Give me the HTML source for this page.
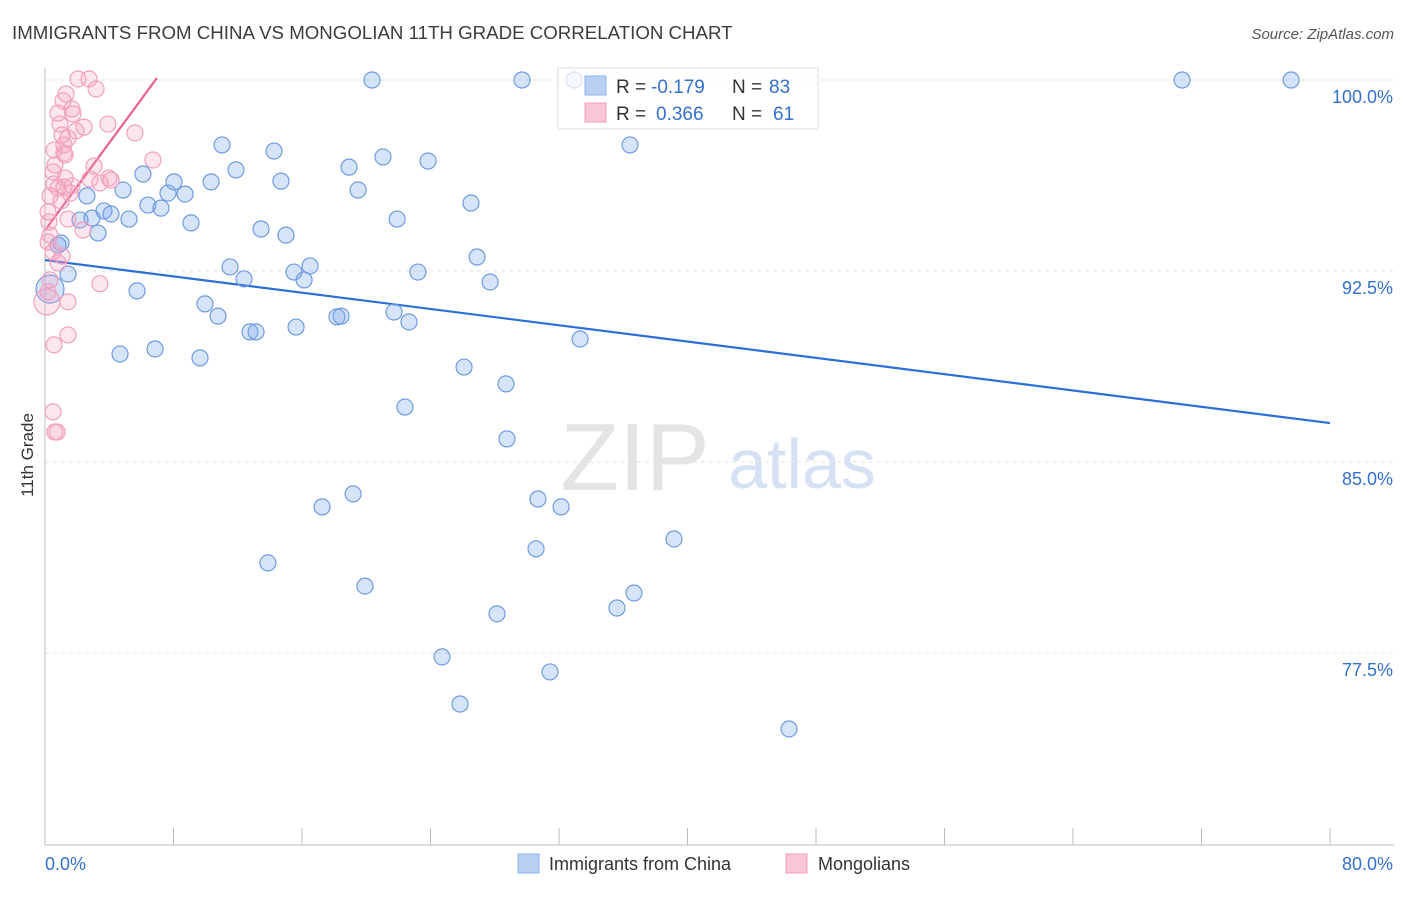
<!DOCTYPE html>
<html><head><meta charset="utf-8">
<style>
body{margin:0;background:#fff;font-family:"Liberation Sans",sans-serif;}
svg text{font-family:"Liberation Sans",sans-serif;}
</style></head>
<body>
<svg id="chart" width="1406" height="892" viewBox="0 0 1406 892" xmlns="http://www.w3.org/2000/svg">
<text x="12" y="39" font-size="18.7" fill="#3c3c3c">IMMIGRANTS FROM CHINA VS MONGOLIAN 11TH GRADE CORRELATION CHART</text>
<text x="1394" y="39" font-size="15" fill="#555" text-anchor="end" font-style="italic">Source: ZipAtlas.com</text>
<g>
<text x="635" y="490" font-size="96" fill="#e4e4e4" font-family="Liberation Serif" text-anchor="middle">ZIP</text>
<text x="802" y="488" font-size="70" fill="#d6e2f4" text-anchor="middle">atlas</text>
</g>
<g id="grid"></g>
<g id="axes"></g>
<g id="lines"></g>
<g id="points"></g>
<text transform="translate(33,455) rotate(-90)" font-size="17" fill="#333" text-anchor="middle">11th Grade</text>
<g>
<rect x="558" y="68" width="260" height="61" fill="rgba(255,255,255,0.75)" stroke="#ddd"/>
<rect x="585" y="76" width="21" height="19" fill="#b7d0f3" stroke="#8fb3e8"/>
<rect x="585" y="103" width="21" height="19" fill="#f9c6d6" stroke="#f0a0bb"/>
<text x="616" y="93" font-size="19" fill="#333">R =</text>
<text x="651" y="93" font-size="19" fill="#3370d0">-0.179</text>
<text x="732" y="93" font-size="19" fill="#333">N =</text>
<text x="769" y="93" font-size="19" fill="#3370d0">83</text>
<text x="616" y="120" font-size="19" fill="#333">R =</text>
<text x="656" y="120" font-size="19" fill="#3370d0">0.366</text>
<text x="732" y="120" font-size="19" fill="#333">N =</text>
<text x="773" y="120" font-size="19" fill="#3370d0">61</text>
</g>
<g>
<rect x="518" y="854" width="21" height="19" fill="#b7d0f3" stroke="#8fb3e8"/>
<text x="549" y="870" font-size="18" fill="#333">Immigrants from China</text>
<rect x="786" y="854" width="21" height="19" fill="#f9c6d6" stroke="#f0a0bb"/>
<text x="818" y="870" font-size="18" fill="#333">Mongolians</text>
</g>
</svg>
<script>
const yTicks=[100,92.5,85,77.5];
const yTickLabels=["100.0%","92.5%","85.0%","77.5%"];
const xTickCount=10;
const xTickLabels=["0.0%","80.0%"];
const blueX=[20.36,29.70,70.79,77.58,32.94,11.02,36.42,14.26,21.04,23.85,18.93,11.89,6.10,10.34,14.69,8.03,4.86,19.49,7.66,8.72,2.61,26.52,6.41,7.22,3.67,4.11,21.92,2.93,2.18,5.23,9.09,13.45,3.30,15.00,1.00,26.90,11.52,16.50,15.50,23.22,1.43,16.13,12.39,27.71,5.73,9.96,10.77,21.73,18.18,18.43,22.66,15.63,12.76,13.14,33.31,4.67,6.85,9.65,26.09,28.70,22.41,28.76,19.18,17.25,30.69,32.13,30.57,39.16,13.88,19.92,36.67,35.61,28.14,24.72,31.44,25.84,46.32,0.31,0.81];
const blueY=[100,100,100,100,100,97.45,97.45,97.21,96.98,96.82,96.58,96.47,96.31,96.00,96.03,96.00,95.68,95.68,95.56,95.52,95.45,95.17,95.09,94.97,94.86,94.74,94.54,94.58,94.50,94.54,94.39,94.15,93.99,93.91,93.60,93.05,92.66,92.70,92.46,92.46,92.38,92.15,92.19,92.07,91.72,91.21,90.73,90.89,90.70,90.73,90.50,90.30,90.11,90.11,89.83,89.24,89.44,89.09,88.73,88.07,87.16,85.91,83.75,83.24,83.55,83.24,81.59,81.98,81.04,80.13,79.86,79.27,79.04,77.35,76.76,75.50,74.52,91.79,93.52];
const pinkX=[2.05,2.74,3.18,1.31,1.12,1.68,0.81,0.93,2.43,3.92,5.60,1.93,1.06,1.43,0.56,1.18,1.25,6.72,3.05,0.50,3.98,4.11,1.25,2.80,0.56,0.81,1.18,1.68,1.56,0.31,1.00,0.19,1.43,0.25,2.37,0.31,0.19,0.50,1.06,0.81,0.31,3.42,0.19,0.12,1.43,1.43,0.56,0.50,0.62,0.75,3.42,0.62,1.18,1.74];
const pinkY=[100.04,100.04,99.65,99.45,99.18,98.86,98.70,98.27,98.15,98.27,97.92,98.00,97.84,97.72,97.25,97.13,97.06,96.86,96.62,96.39,96.15,96.07,96.15,96.11,95.92,95.76,95.80,95.84,95.56,95.45,95.25,94.82,94.54,94.43,94.11,93.91,93.64,93.25,93.09,92.82,92.15,92.00,91.68,91.29,91.29,89.99,89.60,86.97,86.18,86.18,95.96,96.66,97.45,98.67];
const blueTrend=[[0,92.93],[80,86.53]];
const pinkTrend=[[0,94.1],[6.97,100.08]];
const NS="http://www.w3.org/2000/svg";
const X0=45,X1=1330;
function xs(v){return X0+(v/80)*(X1-X0);}
function ys(v){return 80+(100-v)*25.47;}
function mk(tag,attrs,parent){const e=document.createElementNS(NS,tag);for(const k in attrs)e.setAttribute(k,attrs[k]);parent.appendChild(e);return e;}
const grid=document.getElementById('grid'),axes=document.getElementById('axes'),lines=document.getElementById('lines'),pts=document.getElementById('points');
yTicks.forEach((t,i)=>{
 const l=mk('line',{x1:X0,x2:1394,y1:ys(t),y2:ys(t),stroke:'#e2e2e2','stroke-dasharray':'4,4'},grid);
 
 
 const tx=mk('text',{x:1393,y:ys(t)+23,'font-size':18,fill:'#3370d0','text-anchor':'end'},axes);
 tx.textContent=yTickLabels[i];
 
 
});
const ax=mk('line',{x1:X0,x2:1394,y1:845,y2:845,stroke:'#bbb'},axes);


const ay=mk('line',{x1:X0,x2:X0,y1:68,y2:845,stroke:'#bbb'},axes);


for(let i=0;i<=xTickCount;i++){
 const t=mk('line',{x1:xs(i*8),x2:xs(i*8),y1:828,y2:845,stroke:'#bbb'},axes);
 
 
}
const xl0=mk('text',{x:45,y:870,'font-size':18,fill:'#3370d0'},axes);xl0.textContent=xTickLabels[0];


const xl1=mk('text',{x:1393,y:870,'font-size':18,fill:'#3370d0','text-anchor':'end'},axes);xl1.textContent=xTickLabels[1];


blueX.forEach((x,i)=>{
 const big=(i===blueX.length-2);
 const c=mk('circle',{cx:xs(x),cy:ys(blueY[i]),r:big?14:8,fill:'rgba(120,165,235,0.3)',stroke:'#6f9be0','stroke-width':1.2},pts);
 
 
});
pinkX.forEach((x,i)=>{
 const big=(i===43);
 const c=mk('circle',{cx:xs(x),cy:ys(pinkY[i]),r:big?13:8,fill:'rgba(245,160,190,0.25)',stroke:'#f0a0bb','stroke-width':1.2},pts);
 
 
});
const bl=mk('line',{x1:xs(blueTrend[0][0]),y1:ys(blueTrend[0][1]),x2:xs(blueTrend[1][0]),y2:ys(blueTrend[1][1]),stroke:'#2d6fd6','stroke-width':2.2},lines);


const pl=mk('line',{x1:xs(pinkTrend[0][0]),y1:ys(pinkTrend[0][1]),x2:xs(pinkTrend[1][0]),y2:ys(pinkTrend[1][1]),stroke:'#e8628e','stroke-width':2.2},lines);


</script>
</body></html>
